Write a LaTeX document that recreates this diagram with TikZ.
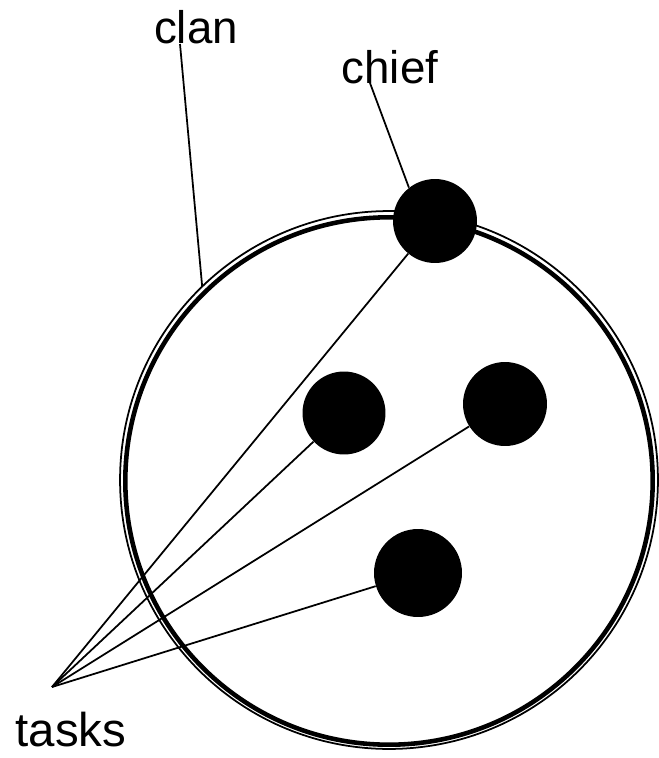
\documentclass[tikz,border=0pt]{standalone}
\usepackage{fontspec}
\setmainfont{Liberation Sans}
\usetikzlibrary{positioning}
\tikzset{
    member/.style={
        circle,
        fill=black,
        minimum size=#1,
        inner sep=0pt
    },
    member/.default=1.68cm,
    ring/.style={
        circle,
        draw=black,
        minimum size=#1,
        inner sep=0pt,
        outer sep=0pt
    },
    tag/.style={
        font=\fontsize{26}{30}\selectfont,
        anchor=base,
        inner sep=0pt
    },
    leader/.style={
        draw=black,
        line width=1pt
    }
}
\begin{document}
\begin{tikzpicture}[x=0.02cm, y=-0.02cm]
        \useasboundingbox (0,0) rectangle (659,758);

        % the clan: thin outer ring and thick inner ring
        \node[ring=10.76cm, line width=1pt] (clanout) at (389,480) {};
        \node[ring=10.55cm, line width=2.6pt] (clanin) at (389,481) {};

        % chief and members
        \node[member] (chief) at (435,221) {};
        \node[member=1.66cm] (m1) at (344,413) {};
        \node[member] (m2) at (505,404) {};
        \node[member=1.76cm] (m3) at (418,573) {};

        % labels
        \node[tag] (clantag) at (196,43) {clan};
        \node[tag] (chieftag) at (390,83) {chief};
        \node[tag, font=\fontsize{27}{31}\selectfont] (taskstag) at (71,746) {tasks};

        \coordinate (clanfoot) at (180,44);
        \coordinate (chieffoot) at (370,83);
        \coordinate (taskpt) at (52,687);

        \draw[leader] (clanfoot) -- (clanout.134);
        \draw[leader] (chieffoot) -- (chief.128);
        \foreach \m in {chief, m1, m2, m3}
            \draw[leader] (taskpt) -- (\m);
    \end{tikzpicture}
\end{document}
